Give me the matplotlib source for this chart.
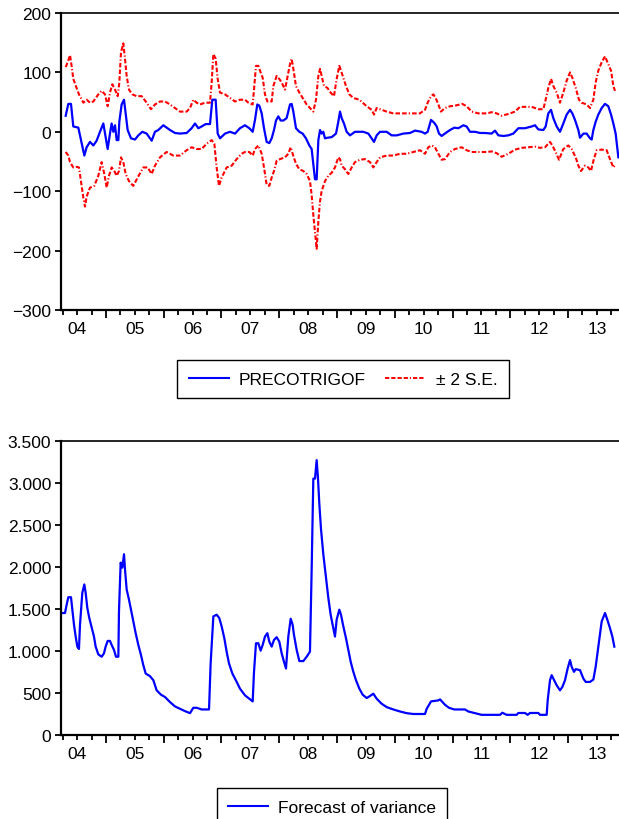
import matplotlib
matplotlib.use("Agg")
import matplotlib.pyplot as plt
from matplotlib.lines import Line2D
from matplotlib.ticker import FuncFormatter

plt.rcParams['font.family'] = ['Liberation Sans', 'DejaVu Sans']

# ---------------- data (decimal years) ----------------
center_years = [
    2004.302, 2004.348, 2004.394, 2004.434, 2004.521, 2004.567, 2004.625, 2004.665, 2004.723, 2004.781,
    2004.838, 2004.896, 2004.954, 2004.983, 2005.029, 2005.069, 2005.098, 2005.127, 2005.156, 2005.185,
    2005.214, 2005.231, 2005.271, 2005.312, 2005.341, 2005.375, 2005.433, 2005.502, 2005.560, 2005.629,
    2005.704, 2005.791, 2005.848, 2005.906, 2005.993, 2006.108, 2006.195, 2006.281, 2006.397, 2006.483,
    2006.541, 2006.599, 2006.657, 2006.726, 2006.801, 2006.841, 2006.899, 2006.934, 2006.974, 2007.061,
    2007.147, 2007.234, 2007.320, 2007.407,
    2007.482, 2007.540, 2007.580, 2007.620, 2007.655, 2007.696, 2007.736, 2007.782, 2007.828, 2007.869,
    2007.909, 2007.944, 2007.984, 2008.025, 2008.071, 2008.128, 2008.186, 2008.215, 2008.244, 2008.290,
    2008.348, 2008.405, 2008.463, 2008.521, 2008.561, 2008.590, 2008.619, 2008.648, 2008.677, 2008.706,
    2008.734, 2008.763, 2008.792, 2008.833, 2008.908, 2008.983, 2009.023, 2009.052, 2009.081, 2009.121,
    2009.167, 2009.225, 2009.312, 2009.456, 2009.543, 2009.600, 2009.641, 2009.687, 2009.745, 2009.860,
    2009.947, 2010.033, 2010.149, 2010.264, 2010.351, 2010.466,
    2010.524, 2010.570, 2010.628, 2010.685, 2010.726, 2010.766, 2010.812, 2010.882, 2010.957, 2011.032,
    2011.101, 2011.188, 2011.245, 2011.303, 2011.390, 2011.476, 2011.563, 2011.678, 2011.736, 2011.794,
    2011.880, 2011.967, 2012.053, 2012.140, 2012.255, 2012.371, 2012.429, 2012.486, 2012.573, 2012.613,
    2012.659, 2012.706, 2012.746, 2012.804, 2012.861, 2012.919, 2012.977, 2013.035, 2013.075, 2013.121,
    2013.179, 2013.208, 2013.266, 2013.323, 2013.381, 2013.410, 2013.439, 2013.479, 2013.525, 2013.583,
    2013.641, 2013.698, 2013.745, 2013.785, 2013.825, 2013.872]
center_vals = [
    27, 47, 47, 9, 7, -14, -40, -26, -17, -23,
    -15, 0, 14, -3, -29, -3, 14, 0, 11, -14,
    -14, 17, 46, 54, 31, 3, -11, -13, -6, 0,
    -3, -15, 0, 3, 11, 3, -2, -3, -2, 6,
    14, 6, 9, 13, 13, 54, 54, -3, -11, -3,
    0, -3, 6, 11,
    6, 0, 20, 46, 44, 31, 6, -17, -19, -11,
    3, 19, 26, 19, 19, 23, 46, 47, 34, 6,
    0, -3, -11, -23, -29, -54, -80, -80, -14, 3,
    -3, 0, -11, -10, -9, -3, 17, 34, 23, 14,
    0, -6, 0, 0, -3, -11, -17, -6, 0, 0,
    -6, -6, -3, -2, 2, 0,
    -3, 0, 20, 15, 9, -3, -7, -2, 3, 7,
    6, 11, 9, 0, 0, -2, -2, -3, 2, -6,
    -7, -6, -3, 6, 6, 9, 11, 4, 3, 9,
    31, 37, 23, 9, 0, 14, 29, 37, 31, 20,
    3, -10, -3, -3, -11, -13, 3, 17, 29, 40,
    47, 43, 29, 14, -3, -43]

upper_years = [
    2004.302, 2004.336, 2004.377, 2004.405, 2004.434, 2004.532, 2004.608, 2004.665, 2004.723, 2004.781,
    2004.867, 2004.925, 2004.983, 2005.029, 2005.069, 2005.110, 2005.156, 2005.202, 2005.231, 2005.260,
    2005.300, 2005.329, 2005.358, 2005.398, 2005.456, 2005.531, 2005.618, 2005.704, 2005.779, 2005.848,
    2005.935, 2006.022, 2006.108, 2006.195, 2006.281, 2006.397, 2006.455, 2006.512, 2006.570, 2006.628,
    2006.714, 2006.801, 2006.830, 2006.859, 2006.899, 2006.934, 2006.974, 2007.061, 2007.147, 2007.234,
    2007.320, 2007.407,
    2007.465, 2007.540, 2007.563, 2007.597, 2007.638, 2007.678, 2007.713, 2007.753, 2007.794, 2007.869,
    2007.898, 2007.955, 2008.001, 2008.042, 2008.100, 2008.140, 2008.186, 2008.215, 2008.244, 2008.290,
    2008.348, 2008.405, 2008.475, 2008.532, 2008.590, 2008.636, 2008.677, 2008.706, 2008.734, 2008.775,
    2008.833, 2008.890, 2008.948, 2008.994, 2009.040, 2009.069, 2009.110, 2009.156, 2009.214, 2009.283,
    2009.387, 2009.444, 2009.514, 2009.600, 2009.641, 2009.687, 2009.773, 2009.860, 2009.975, 2010.149,
    2010.322, 2010.437, 2010.506,
    2010.524, 2010.570, 2010.628, 2010.668, 2010.709, 2010.755, 2010.801, 2010.870, 2010.957, 2011.043,
    2011.170, 2011.245, 2011.332, 2011.447, 2011.592, 2011.678, 2011.765, 2011.851, 2011.967, 2012.082,
    2012.169, 2012.255, 2012.371, 2012.486, 2012.573, 2012.613, 2012.659, 2012.706, 2012.746, 2012.804,
    2012.861, 2012.919, 2012.977, 2013.035, 2013.075, 2013.133, 2013.190, 2013.237, 2013.323, 2013.381,
    2013.439, 2013.479, 2013.525, 2013.583, 2013.641, 2013.698, 2013.745, 2013.785, 2013.814]
upper_vals = [
    109, 117, 129, 111, 89, 63, 49, 54, 49, 51,
    63, 69, 63, 43, 66, 80, 71, 60, 83, 134,
    149, 123, 94, 71, 63, 60, 60, 49, 38, 46,
    51, 51, 46, 40, 34, 34, 40, 54, 49, 46,
    49, 49, 83, 131, 123, 89, 66, 63, 57, 51,
    54, 54,
    49, 46, 71, 111, 111, 100, 91, 63, 51, 51,
    77, 94, 89, 83, 71, 91, 114, 123, 106, 77,
    66, 57, 46, 40, 34, 54, 94, 106, 94, 77,
    74, 66, 60, 89, 111, 103, 91, 77, 63, 57,
    54, 49, 43, 37, 29, 40, 37, 34, 31, 31,
    31, 31, 36,
    37, 49, 60, 63, 57, 46, 34, 40, 43, 44,
    47, 43, 34, 31, 31, 33, 31, 27, 30, 34,
    42, 42, 42, 38, 38, 54, 74, 89, 77, 66,
    49, 66, 86, 100, 91, 74, 54, 49, 46, 40,
    54, 83, 103, 117, 127, 114, 103, 77, 69]

lower_years = [
    2004.302, 2004.348, 2004.377, 2004.434, 2004.492, 2004.532, 2004.567, 2004.608, 2004.636, 2004.665,
    2004.723, 2004.798, 2004.867, 2004.925, 2004.971, 2005.012, 2005.052, 2005.098, 2005.144, 2005.185,
    2005.225, 2005.260, 2005.300, 2005.341, 2005.398, 2005.473, 2005.548, 2005.646, 2005.722, 2005.791,
    2005.848, 2005.935, 2006.050, 2006.166, 2006.281, 2006.397, 2006.483, 2006.570, 2006.657, 2006.743,
    2006.830, 2006.876, 2006.916, 2006.957, 2007.003, 2007.089, 2007.176, 2007.263, 2007.349, 2007.407,
    2007.482, 2007.540, 2007.580, 2007.638, 2007.696, 2007.736, 2007.782, 2007.828, 2007.869, 2007.909,
    2007.955, 2008.013, 2008.100, 2008.157, 2008.198, 2008.232, 2008.290, 2008.348, 2008.417, 2008.475,
    2008.532, 2008.561, 2008.590, 2008.619, 2008.648, 2008.677, 2008.706, 2008.734, 2008.792, 2008.850,
    2008.908, 2008.965, 2009.023, 2009.052, 2009.081, 2009.138, 2009.196, 2009.254, 2009.312, 2009.398,
    2009.485, 2009.571, 2009.629, 2009.687, 2009.745, 2009.860, 2009.975, 2010.091, 2010.206, 2010.322,
    2010.437,
    2010.524, 2010.582, 2010.639, 2010.697, 2010.755, 2010.812, 2010.870, 2010.957, 2011.043, 2011.159,
    2011.245, 2011.332, 2011.447, 2011.592, 2011.678, 2011.765, 2011.851, 2011.967, 2012.082, 2012.198,
    2012.313, 2012.429, 2012.515, 2012.602, 2012.688, 2012.729, 2012.786, 2012.844, 2012.919, 2013.006,
    2013.063, 2013.133, 2013.179, 2013.225, 2013.294, 2013.352, 2013.398, 2013.439, 2013.496, 2013.583,
    2013.669, 2013.727, 2013.785, 2013.825]
lower_vals = [
    -34, -40, -51, -60, -59, -60, -83, -111, -126, -109,
    -94, -91, -74, -51, -71, -94, -74, -60, -66, -74,
    -66, -43, -51, -71, -83, -91, -77, -60, -60, -71,
    -57, -43, -34, -40, -40, -31, -26, -29, -29, -20,
    -14, -20, -60, -91, -77, -60, -57, -46, -37, -34,
    -34, -40, -29, -23, -37, -60, -89, -91, -77, -66,
    -49, -46, -43, -37, -26, -37, -54, -63, -66, -71,
    -83, -106, -140, -169, -197, -151, -117, -100, -83, -74,
    -69, -60, -43, -46, -57, -63, -71, -60, -51, -47,
    -46, -51, -60, -51, -43, -40, -40, -37, -37, -34,
    -31,
    -37, -26, -23, -26, -37, -47, -46, -34, -29, -26,
    -31, -34, -34, -34, -33, -36, -42, -37, -30, -27,
    -26, -25, -27, -26, -17, -23, -34, -47, -29, -23,
    -29, -43, -57, -66, -57, -60, -66, -49, -31, -30,
    -31, -46, -60, -55]

var_years = [
    2004.244, 2004.290, 2004.319, 2004.348, 2004.394, 2004.417, 2004.446, 2004.475, 2004.504, 2004.532,
    2004.550, 2004.590, 2004.625, 2004.648, 2004.677, 2004.711, 2004.752, 2004.792, 2004.821, 2004.867,
    2004.925, 2004.965, 2004.994, 2005.029, 2005.069, 2005.098, 2005.139, 2005.173, 2005.214, 2005.225,
    2005.254, 2005.283, 2005.312, 2005.329, 2005.358, 2005.398, 2005.433, 2005.473, 2005.514, 2005.560,
    2005.606, 2005.646, 2005.687, 2005.762, 2005.820, 2005.877, 2005.952, 2006.022, 2006.108, 2006.195,
    2006.281, 2006.368, 2006.455, 2006.512, 2006.570, 2006.657, 2006.784, 2006.812, 2006.859, 2006.916,
    2006.962, 2007.003, 2007.049, 2007.089, 2007.130, 2007.188, 2007.263, 2007.320,
    2007.407, 2007.540, 2007.563, 2007.597, 2007.638, 2007.678, 2007.713, 2007.753, 2007.794, 2007.828,
    2007.869, 2007.909, 2007.955, 2008.001, 2008.042, 2008.082, 2008.117, 2008.157, 2008.198, 2008.232,
    2008.255, 2008.302, 2008.348, 2008.417, 2008.475, 2008.532, 2008.561, 2008.590, 2008.619, 2008.648,
    2008.671, 2008.694, 2008.723, 2008.763, 2008.810, 2008.850, 2008.890, 2008.937, 2008.965, 2008.994,
    2009.040, 2009.069, 2009.110, 2009.156, 2009.196, 2009.237, 2009.283, 2009.329, 2009.387, 2009.444,
    2009.514, 2009.571, 2009.629, 2009.687, 2009.773, 2009.860, 2009.975, 2010.091, 2010.206, 2010.322,
    2010.524,
    2010.553, 2010.628, 2010.755, 2010.784, 2010.870, 2010.939, 2011.032, 2011.216, 2011.274, 2011.390,
    2011.505, 2011.823, 2011.863, 2011.938, 2012.111, 2012.140, 2012.255, 2012.302, 2012.342, 2012.486,
    2012.515, 2012.631, 2012.648, 2012.688, 2012.717, 2012.746, 2012.804, 2012.861, 2012.902, 2012.948,
    2012.994, 2013.035, 2013.063, 2013.104, 2013.133, 2013.208, 2013.266, 2013.306, 2013.381, 2013.439,
    2013.479, 2013.514, 2013.554, 2013.583, 2013.641, 2013.681, 2013.727, 2013.768, 2013.802]
var_vals = [
    1452, 1452, 1552, 1640, 1640, 1492, 1312, 1172, 1052, 1024,
    1312, 1692, 1792, 1692, 1512, 1392, 1280, 1172, 1052, 960,
    932, 972, 1052, 1120, 1120, 1072, 1012, 932, 932, 1472,
    2052, 1992, 2152, 1972, 1732, 1612, 1492, 1352, 1212, 1072,
    952, 832, 732, 700, 652, 532, 480, 452, 392, 340,
    312, 284, 260, 324, 324, 304, 304, 852, 1412, 1432,
    1392, 1292, 1152, 992, 852, 732, 632, 552,
    472, 400, 752, 1092, 1092, 1004, 1072, 1172, 1212, 1112,
    1052, 1132, 1164, 1112, 972, 872, 792, 1172, 1384, 1312,
    1192, 1012, 880, 880, 932, 992, 1960, 3052, 3052, 3272,
    3052, 2752, 2452, 2152, 1872, 1632, 1432, 1272, 1172, 1372,
    1492, 1432, 1292, 1152, 1012, 872, 752, 652, 552, 480,
    440, 464, 492, 432, 372, 332, 304, 280, 260, 250,
    250,
    312, 400, 412, 424, 360, 324, 304, 304, 280, 260,
    240, 240, 265, 240, 240, 262, 262, 240, 262, 262,
    240, 240, 412, 652, 712, 672, 592, 532, 572, 652,
    792, 892, 812, 752, 784, 772, 672, 632, 632, 660,
    812, 992, 1192, 1352, 1452, 1372, 1272, 1172, 1052]

year_label_years = [2004, 2005, 2006, 2007, 2008, 2009, 2010, 2011, 2012, 2013]
year_labels = ['04', '05', '06', '07', '08', '09', '10', '11', '12', '13']
top_yticks = [-300, -200, -100, 0, 100, 200]
bottom_yticks = [0, 500, 1000, 1500, 2000, 2500, 3000, 3500]
legend_top_labels = ['PRECOTRIGOF', '\u00b1 2 S.E.']
legend_bottom_labels = ['Forecast of variance']

# ---------------- styling ----------------
BLUE = '#0000ff'
RED = '#ff0000'
XMIN, XMAX = 2004.221, 2013.883
DASH = (2.2, 1.0, 2.2, 1.0, 2.2, 1.0, 2.2, 1.0, 0.6, 1.0)
FS = 12.5

W, H = 619, 820
fig = plt.figure(figsize=(W / 100, H / 100), dpi=100)
ax1 = fig.add_axes([61 / W, 1 - 311 / H, 558 / W, 297 / H])
ax2 = fig.add_axes([61 / W, 1 - 736 / H, 558 / W, 294 / H])


def style_axis(ax):
    ax.spines['right'].set_visible(False)
    ax.spines['left'].set_linewidth(1.6)
    ax.spines['bottom'].set_linewidth(1.6)
    ax.spines['top'].set_linewidth(1.2)
    ax.set_xlim(XMIN, XMAX)
    majors = [y for y in year_label_years if XMIN < y < XMAX]
    ax.set_xticks(majors)
    ax.set_xticklabels([''] * len(majors))
    minors, mlabels = [], []
    for y, lab in zip(year_label_years, year_labels):
        for q in (0.25, 0.5, 0.75):
            pos = y + q
            if XMIN < pos < XMAX:
                minors.append(pos)
                mlabels.append(lab if q == 0.5 else '')
    ax.set_xticks(minors, minor=True)
    ax.set_xticklabels(mlabels, minor=True)
    ax.tick_params(axis='x', which='major', direction='out', length=6, width=1.3, pad=2)
    ax.tick_params(axis='x', which='minor', direction='out', length=3.5, width=1.3,
                   pad=4.5, labelsize=FS)
    ax.tick_params(axis='y', which='major', direction='out', length=4.5, width=1.3,
                   pad=2.5, labelsize=FS)


# top panel
ax1.plot(center_years, center_vals, color=BLUE, lw=1.6)
ax1.plot(upper_years, upper_vals, color=RED, lw=1.5, dashes=DASH)
ax1.plot(lower_years, lower_vals, color=RED, lw=1.5, dashes=DASH)
ax1.set_ylim(-300, 200)
ax1.set_yticks(top_yticks)
style_axis(ax1)

# bottom panel
ax2.plot(var_years, var_vals, color=BLUE, lw=1.6)
ax2.set_ylim(0, 3500)
ax2.set_yticks(bottom_yticks)
ax2.yaxis.set_major_formatter(FuncFormatter(lambda v, p: f"{int(v):,}".replace(',', '.')))
style_axis(ax2)

# legends
h_blue = Line2D([], [], color=BLUE, lw=1.5)
h_red = Line2D([], [], color=RED, lw=1.4, dashes=DASH)
leg1 = fig.legend([h_blue, h_red], legend_top_labels, loc='center',
                  bbox_to_anchor=(343 / W, 1 - 380 / H), ncol=2, frameon=True,
                  fancybox=False, edgecolor='black', framealpha=1, fontsize=FS,
                  handlelength=2.3, handletextpad=0.6, columnspacing=1.1,
                  borderpad=0.65, borderaxespad=0)
leg1.get_frame().set_linewidth(1.0)

leg2 = fig.legend([h_blue], legend_bottom_labels, loc='center',
                  bbox_to_anchor=(332 / W, 1 - 808 / H), ncol=1, frameon=True,
                  fancybox=False, edgecolor='black', framealpha=1, fontsize=FS,
                  handlelength=2.3, handletextpad=0.6, borderpad=0.65, borderaxespad=0)
leg2.get_frame().set_linewidth(1.0)

fig.savefig('out.png', dpi=100)
